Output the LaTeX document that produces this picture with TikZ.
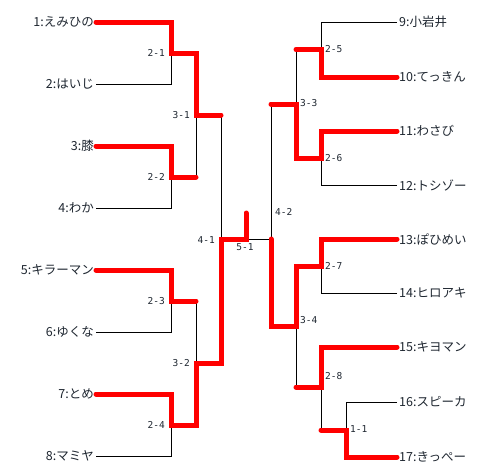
\documentclass[tikz,border=0pt]{standalone}
\usepackage{fontspec}
\setmainfont{Noto Sans CJK JP}
\newfontfamily\bkmono{DejaVu Sans Mono}
\definecolor{bkink}{HTML}{1E2630}
\tikzset{
  bk/name/.style={font=\fontsize{12.5}{14}\selectfont, text=bkink, inner sep=2pt},
  bk/score/.style={font=\bkmono\fontsize{9.5}{10}\selectfont, text=bkink, inner sep=1pt},
  bk/line/.style={black, line width=0.9pt},
  bk/win/.style={red, line width=5pt, line cap=round},
}

\begin{document}
\begin{tikzpicture}[x=1pt, y=-1pt]
  \useasboundingbox (0,0) rectangle (491,474);

  % Players, left block
  \node[bk/name, anchor=east] (p1) at (96,22) {1:えみひの};
  \node[bk/name, anchor=east] (p2) at (96,84) {2:はいじ};
  \node[bk/name, anchor=east] (p3) at (96,146) {3:膝};
  \node[bk/name, anchor=east] (p4) at (96,208) {4:わか};
  \node[bk/name, anchor=east] (p5) at (96,270) {5:キラーマン};
  \node[bk/name, anchor=east] (p6) at (96,332) {6:ゆくな};
  \node[bk/name, anchor=east] (p7) at (96,394) {7:とめ};
  \node[bk/name, anchor=east] (p8) at (96,456) {8:マミヤ};

  % Players, right block
  \node[bk/name, anchor=west] (p9) at (397,22) {9:小岩井};
  \node[bk/name, anchor=west] (p10) at (397,77) {10:てっきん};
  \node[bk/name, anchor=west] (p11) at (397,131) {11:わさび};
  \node[bk/name, anchor=west] (p12) at (397,185) {12:トシゾー};
  \node[bk/name, anchor=west] (p13) at (397,239) {13:ぽひめい};
  \node[bk/name, anchor=west] (p14) at (397,293) {14:ヒロアキ};
  \node[bk/name, anchor=west] (p15) at (397,347) {15:キヨマン};
  \node[bk/name, anchor=west] (p16) at (397,402) {16:スピーカ};
  \node[bk/name, anchor=west] (p17) at (397,457) {17:きっぺー};

  % Match points
  \coordinate (m21) at (171,53);
  \coordinate (m22) at (171,177);
  \coordinate (m23) at (171,301);
  \coordinate (m24) at (171,425);
  \coordinate (m31) at (196,115);
  \coordinate (m32) at (196,363);
  \coordinate (m41) at (221,239);
  \coordinate (m11) at (346,430);
  \coordinate (m25) at (321,49.5);
  \coordinate (m26) at (321,158);
  \coordinate (m27) at (321,266);
  \coordinate (m28) at (321,387);
  \coordinate (m33) at (296,104);
  \coordinate (m34) at (296,326.5);
  \coordinate (m42) at (271,239);
  \coordinate (m51) at (246,239);
  \coordinate (champ) at (246,213);

  % Bracket
  \draw[bk/line] (p1.east) -| (m21) (p2.east) -| (m21);
  \draw[bk/line] (p3.east) -| (m22) (p4.east) -| (m22);
  \draw[bk/line] (p5.east) -| (m23) (p6.east) -| (m23);
  \draw[bk/line] (p7.east) -| (m24) (p8.east) -| (m24);
  \draw[bk/line] (m21) -| (m31) (m22) -| (m31);
  \draw[bk/line] (m23) -| (m32) (m24) -| (m32);
  \draw[bk/line] (m31) -| (m41) (m32) -| (m41);
  \draw[bk/line] (m41) -- (m42);
  \draw[bk/line] (p9.west) -| (m25) (p10.west) -| (m25);
  \draw[bk/line] (p11.west) -| (m26) (p12.west) -| (m26);
  \draw[bk/line] (p13.west) -| (m27) (p14.west) -| (m27);
  \draw[bk/line] (p16.west) -| (m11) (p17.west) -| (m11);
  \draw[bk/line] (p15.west) -| (m28) (m11) -| (m28);
  \draw[bk/line] (m25) -| (m33) (m26) -| (m33);
  \draw[bk/line] (m27) -| (m34) (m28) -| (m34);
  \draw[bk/line] (m33) -| (m42) (m34) -| (m42);

  % Winners
  \draw[bk/win] (p1.east) -| (m21) -| (m31) -- (m31 -| m41);
  \draw[bk/win] (p3.east) -| (m22) -- (m22 -| m31);
  \draw[bk/win] (p5.east) -| (m23) -- (m23 -| m32);
  \draw[bk/win] (p7.east) -| (m24) -| (m32) -| (m41) -- (m51) -- (champ);
  \draw[bk/win] (p10.west) -| (m25) -- (m25 -| m33);
  \draw[bk/win] (p11.west) -| (m26) -| (m33) -- (m33 -| m42);
  \draw[bk/win] (p13.west) -| (m27) -| (m34) -| (m42);
  \draw[bk/win] (p15.west) -| (m28) -- (m28 -| m34);
  \draw[bk/win] (p17.west) -| (m11) -- (m11 -| m28);

  % Scores
  \node[bk/score, anchor=east] (s21) at (166,53) {2-1};
  \node[bk/score, anchor=east] (s22) at (166,177) {2-2};
  \node[bk/score, anchor=east] (s23) at (166,301) {2-3};
  \node[bk/score, anchor=east] (s24) at (166,425) {2-4};
  \node[bk/score, anchor=east] (s31) at (191,115) {3-1};
  \node[bk/score, anchor=east] (s32) at (191,363) {3-2};
  \node[bk/score, anchor=east] (s41) at (216,240) {4-1};
  \node[bk/score] (s51) at (245,247) {5-1};
  \node[bk/score, anchor=west] (s25) at (324,49) {2-5};
  \node[bk/score, anchor=west] (s26) at (324,158) {2-6};
  \node[bk/score, anchor=west] (s27) at (324,266) {2-7};
  \node[bk/score, anchor=west] (s28) at (324,376) {2-8};
  \node[bk/score, anchor=west] (s11) at (349,429) {1-1};
  \node[bk/score, anchor=west] (s33) at (299,103) {3-3};
  \node[bk/score, anchor=west] (s34) at (299,320) {3-4};
  \node[bk/score, anchor=west] (s42) at (274,212) {4-2};

\end{tikzpicture}
\end{document}
